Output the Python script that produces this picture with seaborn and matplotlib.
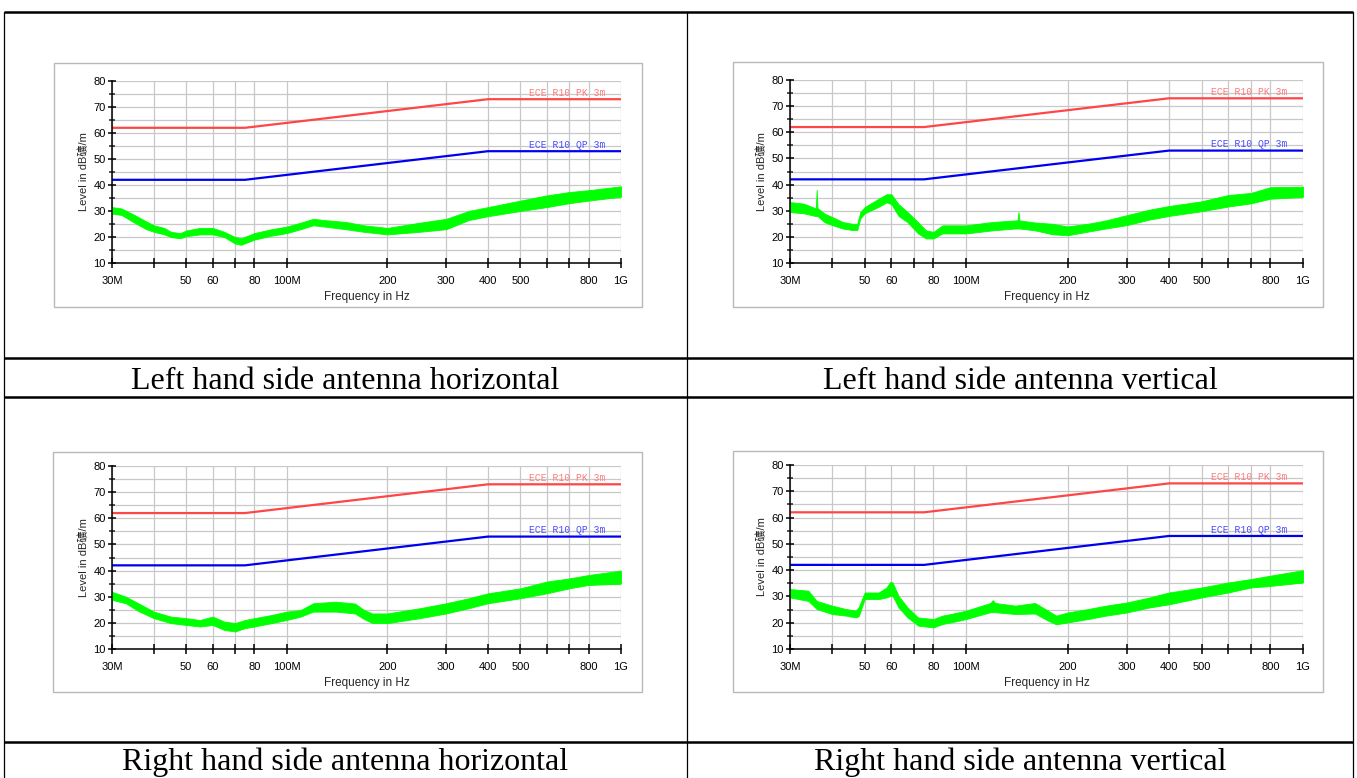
import matplotlib
matplotlib.use("Agg")
import matplotlib.pyplot as plt
import pandas as pd
import seaborn as sns
from matplotlib.patches import Rectangle
from matplotlib.ticker import FixedLocator, FixedFormatter

# ECE R10 limit lines at 3 m
limit_freq = [30, 75, 400, 1000]
pk_limit = [62, 62, 73, 73]
qp_limit = [42, 42, 53, 53]

x_ticks = [30, 40, 50, 60, 70, 80, 100, 200, 300, 400, 500, 600, 700, 800, 1000]
x_tick_labels = ["30M", "", "50", "60", "", "80", "100M", "200", "300", "400", "500", "", "", "800", "1G"]
y_major = [10, 20, 30, 40, 50, 60, 70, 80]
y_minor = [15, 25, 35, 45, 55, 65, 75]

captions = ["Left hand side antenna horizontal", "Left hand side antenna vertical",
            "Right hand side antenna horizontal", "Right hand side antenna vertical"]

# measured trace, read as lower / upper edge of the noise band (MHz, dB)
lh_freq = [30, 32, 35, 38, 40, 43, 45, 48, 50, 55, 60, 65, 70, 73, 80, 90, 100, 110,
           120, 130, 150, 170, 200, 250, 300, 350, 400, 500, 600, 700, 800, 1000]
lh_lo = [29, 28.5, 25.5, 23, 22, 21, 20, 19.5, 20.3, 21, 21, 20, 17.5, 17, 19, 20.5, 21.5, 23,
         24.5, 24, 23, 22, 21, 22, 23, 26.5, 28, 30, 31.5, 33, 34, 35.5]
lh_hi = [31.5, 31, 28.5, 26, 24.5, 23.5, 22, 21.5, 22.5, 23.5, 23.5, 22, 20, 19.5, 21.5, 23, 24, 25.5,
         27, 26.5, 25.8, 24.5, 23.5, 25.5, 27, 30, 31.5, 34, 36, 37.3, 38, 39.5]

lv_freq = [30, 33, 35.6, 35.8, 36.0, 36.2, 38, 40, 43, 46, 47.5, 48.5, 50, 55, 58, 60, 63, 67,
           72, 76, 80, 85, 100, 120, 140, 142, 143, 144, 160, 180, 200, 230, 260, 300, 350,
           400, 500, 600, 700, 800, 1000]
lv_lo = [29.5, 29, 28, 28, 28, 28, 25.6, 24.5, 23.2, 22.6, 22.6, 27, 29, 31.5, 33.2, 32.5, 28, 25.6,
         21.3, 19.4, 19.4, 21.3, 21.3, 22.5, 23.2, 23.2, 23.2, 23.2, 22.5, 21, 20.6, 22, 23.2, 24.5, 26.6,
         28, 29.8, 31.6, 32.8, 34.6, 35.3]
lv_hi = [33.3, 32.7, 31, 31, 38, 31, 28.9, 27.6, 25.7, 25, 25, 29.5, 31.4, 34.6, 36.3, 36.3, 32.5, 29.5,
         25.6, 22.5, 21.9, 24.4, 24.4, 25.7, 26.3, 26.3, 29.5, 26.3, 25.5, 25, 24, 25, 26.3, 28.3, 30.4,
         31.8, 33.6, 36, 36.8, 39, 39.2]

rh_freq = [30, 33, 36, 40, 45, 50, 55, 60, 65, 70, 75, 80, 90, 100, 110, 120, 140, 160, 170,
           180, 200, 250, 300, 350, 400, 500, 600, 700, 800, 1000]
rh_lo = [28.8, 27.5, 24.5, 21.8, 19.9, 19.2, 18.6, 19.2, 17.3, 16.7, 18, 18.6, 19.9, 21.1, 22.4, 24.3,
         24.3, 23.6, 21.5, 20, 19.9, 21.8, 23.6, 25.6, 27.5, 29.4, 31.3, 33.2, 34.5, 35]
rh_hi = [31.9, 30, 27.5, 24.3, 22.4, 21.8, 21.1, 22.4, 20.5, 19.9, 21.1, 21.8, 23, 24.3, 24.9, 27.5,
         28.1, 27.4, 25, 23.6, 23.6, 25.6, 27.5, 29.4, 31.3, 33.2, 35.8, 37, 38.3, 40]

rv_freq = [30, 34, 36, 40, 44, 47, 48, 50, 55, 58, 59.5, 60.5, 63, 67, 72, 80, 85, 90, 100,
           118, 120, 122, 140, 160, 175, 185, 200, 230, 260, 300, 350, 400, 500, 600, 700, 800, 1000]
rv_lo = [29.6, 28.3, 25.2, 23.3, 22.7, 22, 22.5, 29, 29, 29.6, 30.2, 30.2, 25.8, 22, 18.9, 18.2, 19.5,
         20.1, 21.4, 24, 24, 24, 23.3, 23.5, 20.8, 19.4, 20.1, 21.4, 22.7, 23.9, 25.8, 27, 29.6, 31.5,
         33.4, 34, 35.3]
rv_hi = [32.8, 32.2, 28.3, 26.5, 25.2, 24.6, 26, 31.5, 31.5, 33.4, 35.5, 35.3, 30.2, 25.8, 22, 21.4,
         22.7, 23.3, 24.6, 27.5, 28.6, 27.5, 26.5, 27.5, 24.6, 22.7, 23.9, 25.2, 26.5, 27.7, 29.6, 31.5,
         33.4, 35.3, 36.6, 37.9, 40]

traces = [(lh_freq, lh_lo, lh_hi), (lv_freq, lv_lo, lv_hi),
          (rh_freq, rh_lo, rh_hi), (rv_freq, rv_lo, rv_hi)]

# layout in pixels: (axes x0, y0, x1, y1), (frame x0, y0, x1, y1)
W, H = 1357, 778
layout = [((112, 81, 621, 263), (54, 63, 642, 307)),
          ((790, 80, 1303, 263), (733, 62, 1323, 307)),
          ((112, 466, 621, 649), (53, 452, 642, 692)),
          ((790, 465, 1303, 649), (733, 451, 1323, 692))]
caption_pos = [(345, 389), (1020, 389), (345, 770), (1020, 770)]

RED = "#ff4646"
BLUE = "#0000f0"
GREEN = "#00ff00"
GRID = "#c8c8c8"

sns.set_style("white")
plt.rcParams["font.family"] = ["Liberation Sans", "Noto Sans CJK SC"]

fig = plt.figure(figsize=(W / 100, H / 100), dpi=100)

# page / table background in pixel coordinates
bg = fig.add_axes([0, 0, 1, 1], zorder=0)
bg.set_xlim(0, W)
bg.set_ylim(H, 0)
bg.axis("off")
for y in [12, 358, 397, 742]:
    bg.plot([4, 1353], [y, y], color="black", lw=1.8, solid_capstyle="butt")
for x in [4, 687, 1353]:
    bg.plot([x, x], [12, H], color="black", lw=0.9)
for (ax_box, frame), cap, (cx, cy) in zip(layout, captions, caption_pos):
    fx0, fy0, fx1, fy1 = frame
    bg.add_patch(Rectangle((fx0, fy0), fx1 - fx0, fy1 - fy0, facecolor="white",
                           edgecolor="#b8b8b8", lw=1.0))
    bg.text(cx, cy, cap, ha="center", va="baseline", fontsize=23,
            family="Liberation Serif", color="black")

limits = pd.DataFrame({"freq": limit_freq, "PK": pk_limit, "QP": qp_limit})

for (ax_box, frame), (freq, lo, hi) in zip(layout, traces):
    x0, y0, x1, y1 = ax_box
    ax = fig.add_axes([x0 / W, 1 - y1 / H, (x1 - x0) / W, (y1 - y0) / H], zorder=1)
    ax.set_facecolor("white")
    ax.set_xscale("log")

    trace = pd.DataFrame({"freq": freq, "lo": lo, "hi": hi})
    ax.fill_between(trace["freq"], trace["lo"], trace["hi"], color=GREEN, lw=0.6, zorder=3)

    sns.lineplot(data=limits, x="freq", y="PK", ax=ax, color=RED, lw=1.6, zorder=4)
    sns.lineplot(data=limits, x="freq", y="QP", ax=ax, color=BLUE, lw=1.6, zorder=4)

    ax.text(limit_freq[-1] * 0.9, pk_limit[-1] + 2.4, "ECE R10 PK 3m", ha="right", va="center",
            fontsize=7, family="Liberation Mono", color="#ff7a7a", zorder=5)
    ax.text(limit_freq[-1] * 0.9, qp_limit[-1] + 2.4, "ECE R10 QP 3m", ha="right", va="center",
            fontsize=7, family="Liberation Mono", color="#4a4aff", zorder=5)

    ax.set_xlim(30, 1000)
    ax.set_ylim(10, 80)
    ax.xaxis.set_major_locator(FixedLocator(x_ticks))
    ax.xaxis.set_major_formatter(FixedFormatter(x_tick_labels))
    ax.xaxis.set_minor_locator(FixedLocator([]))
    ax.yaxis.set_major_locator(FixedLocator(y_major))
    ax.yaxis.set_minor_locator(FixedLocator(y_minor))

    ax.grid(True, which="both", color=GRID, lw=0.9)
    ax.set_axisbelow(True)
    for side in ["top", "right"]:
        ax.spines[side].set_visible(False)
    for side in ["left", "bottom"]:
        ax.spines[side].set_color("black")
        ax.spines[side].set_linewidth(1.1)
        ax.spines[side].set_zorder(6)

    ax.tick_params(axis="x", which="major", direction="inout", length=7, width=1.1,
                   labelsize=8, pad=5.5, colors="black", bottom=True)
    ax.tick_params(axis="y", which="major", direction="inout", length=6, width=1.1,
                   labelsize=8, pad=1.5, colors="black", left=True)
    ax.tick_params(axis="y", which="minor", direction="inout", length=5, width=1.1, left=True)

    ax.set_xlabel("Frequency in Hz", fontsize=8.5, labelpad=4)
    ax.set_ylabel("Level in dB礦/m", fontsize=8, labelpad=3,
                  family=["Liberation Sans", "Noto Sans CJK SC"])

fig.savefig("out.png", dpi=100)
